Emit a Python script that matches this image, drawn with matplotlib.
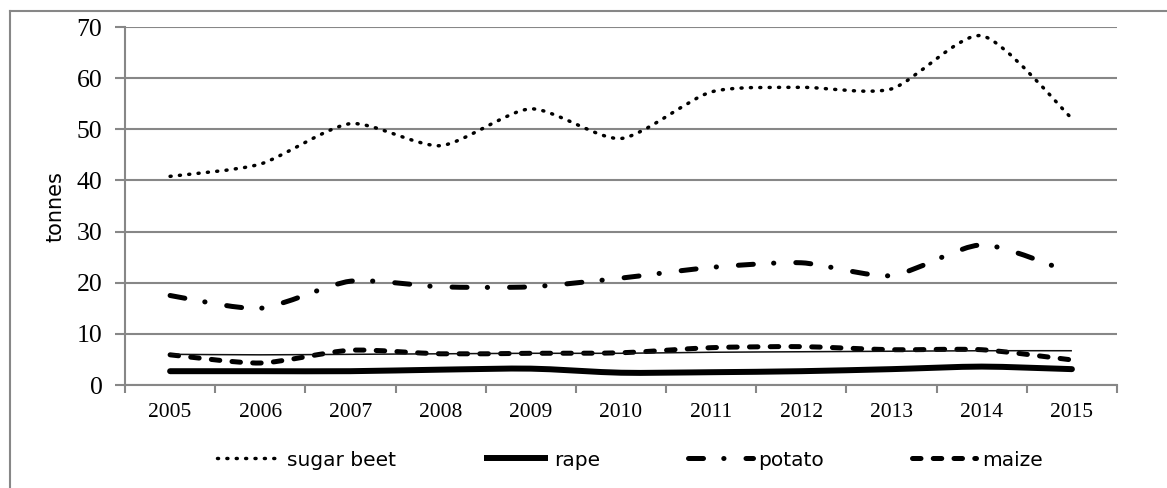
import matplotlib
matplotlib.use('Agg')
import matplotlib.pyplot as plt
from matplotlib.path import Path
from matplotlib.patches import PathPatch
from matplotlib.lines import Line2D

years = ['2005', '2006', '2007', '2008', '2009', '2010',
         '2011', '2012', '2013', '2014', '2015']
sugar_beet = [40.8, 43.2, 51.1, 46.8, 54.0, 48.2, 57.3, 58.2, 57.9, 68.3, 52.1]
rape = [2.7, 2.7, 2.7, 3.0, 3.2, 2.4, 2.5, 2.7, 3.1, 3.6, 3.1]
potato = [17.5, 15.0, 20.3, 19.2, 19.2, 20.9, 23.0, 23.9, 21.4, 27.4, 21.9]
maize = [5.9, 4.3, 6.8, 6.1, 6.2, 6.3, 7.3, 7.5, 6.9, 6.9, 4.9]
other = [6.0, 5.9, 6.0, 6.1, 6.2, 6.2, 6.4, 6.5, 6.6, 6.7, 6.7]

grey = '#878787'


def smooth_path(ys, k=0.12):
    # excel-like smoothed line drawn as cubic bezier segments
    pts = [(i, y) for i, y in enumerate(ys)]
    n = len(pts)
    verts = [pts[0]]
    codes = [Path.MOVETO]
    for i in range(n - 1):
        p0 = pts[i - 1] if i > 0 else pts[i]
        p1 = pts[i]
        p2 = pts[i + 1]
        p3 = pts[i + 2] if i + 2 < n else pts[i + 1]
        c1 = (p1[0] + (p2[0] - p0[0]) * k, p1[1] + (p2[1] - p0[1]) * k)
        c2 = (p2[0] - (p3[0] - p1[0]) * k, p2[1] - (p3[1] - p1[1]) * k)
        verts += [c1, c2, p2]
        codes += [Path.CURVE4] * 3
    return Path(verts, codes)


fig = plt.figure(figsize=(11.67, 4.88), dpi=100)
ax = fig.add_axes([125 / 1167, 1 - 385 / 488, (1117 - 125) / 1167, (385 - 27) / 488])

styles = [
    (sugar_beet, 'sugar beet', 2.5, (0, (0.3, 2.4))),
    (rape, 'rape', 4.3, '-'),
    (potato, 'potato', 3.6, (0, (3.0, 4.05, 0.05, 4.4))),
    (maize, 'maize', 3.6, (0, (1.7, 2.45))),
]

handles = []
for vals, name, lw, ls in styles:
    patch = PathPatch(smooth_path(vals), fill=False, edgecolor='black',
                      linewidth=lw, linestyle=ls, zorder=3)
    patch.set_capstyle('round')
    ax.add_patch(patch)
    handles.append(Line2D([], [], color='black', linewidth=lw, linestyle=ls,
                          dash_capstyle='round', solid_capstyle='butt', label=name))

thin = PathPatch(smooth_path(other), fill=False, edgecolor='#111111',
                 linewidth=1.1, zorder=3)
ax.add_patch(thin)

ax.set_xlim(-0.5, 10.5)
ax.set_ylim(0, 70)
ax.set_yticks(range(0, 71, 10))
ax.yaxis.grid(True, color=grey, linewidth=1.5)
ax.set_axisbelow(True)

ax.set_xticks([i - 0.5 for i in range(12)])
ax.set_xticklabels([])
ax.set_xticks(range(11), minor=True)
ax.set_xticklabels(years, minor=True, fontfamily='Liberation Serif', fontsize=15.5)
ax.tick_params(axis='x', which='major', length=6, width=1.5, color=grey, direction='out')
ax.tick_params(axis='x', which='minor', length=0, pad=13)
ax.tick_params(axis='y', length=7.2, width=1.5, color=grey, pad=9)
for lab in ax.get_yticklabels():
    lab.set_fontfamily('Liberation Serif')
    lab.set_fontsize(18.5)

for side in ['top', 'right']:
    ax.spines[side].set_visible(False)
ax.spines['left'].set_color(grey)
ax.spines['left'].set_linewidth(1.5)
ax.spines['bottom'].set_color(grey)
ax.spines['bottom'].set_linewidth(1.5)

ax.set_ylabel('tonnes', fontsize=15, fontfamily='DejaVu Sans')
ax.yaxis.set_label_coords(-60 / 992, (385 - 207) / 358)

fig.legend(handles=handles, loc='center', bbox_to_anchor=(630 / 1167, 1 - 460 / 488),
           ncol=4, frameon=False, fontsize=14.5, handlelength=3.2,
           handletextpad=0.3, columnspacing=4.35, borderpad=0)

# outer chart border (right and bottom edges fall outside the picture)
fig.add_artist(Line2D([10 / 1167, 10 / 1167], [0, 1 - 11 / 488],
                      transform=fig.transFigure, color=grey, linewidth=1.5))
fig.add_artist(Line2D([10 / 1167, 1], [1 - 11 / 488, 1 - 11 / 488],
                      transform=fig.transFigure, color=grey, linewidth=1.5))

plt.savefig('out.png', dpi=100)
